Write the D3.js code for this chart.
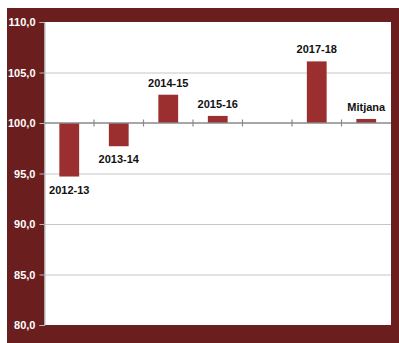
<!DOCTYPE html>
<html>
<head>
<meta charset="utf-8">
<script src="https://cdn.jsdelivr.net/npm/d3@7"></script>
<style>
  html, body { margin: 0; padding: 0; background: #fff; }
  svg { display: block; font-family: "Liberation Sans", Arial, sans-serif; }
</style>
</head>
<body>
<svg id="chart" width="399" height="343"></svg>
<script>
// chart data
const categories = ["2012-13", "2013-14", "2014-15", "2015-16", "2016-17", "2017-18", "Mitjana"];
const values = [94.7, 97.7, 102.8, 100.7, null, 106.1, 100.4];
const labels = ["2012-13", "2013-14", "2014-15", "2015-16", "", "2017-18", "Mitjana"];
const yTicks = [80, 85, 90, 95, 100, 105, 110];
const baseValue = 100;

const svg = d3.select("#chart");
const width = 399, height = 343;
const plot = { left: 44.5, top: 22, right: 391, bottom: 325 };

const xScale = d3.scaleBand()
    .domain(categories)
    .range([plot.left, plot.right])
    .paddingInner(0.6)
    .paddingOuter(0.3);

const yScale = d3.scaleLinear()
    .domain([80, 110])
    .range([plot.bottom, plot.top]);

const fmt = d => d.toFixed(1).replace(".", ",");

// maroon frame
svg.append("rect")
    .attr("x", 7).attr("y", 8)
    .attr("width", width - 7).attr("height", height - 8)
    .attr("fill", "#6b1e1e");

// white plot area
svg.append("rect")
    .attr("x", plot.left).attr("y", plot.top)
    .attr("width", plot.right - plot.left).attr("height", plot.bottom - plot.top)
    .attr("fill", "#fff");

// grid lines (dotted)
svg.append("g")
    .selectAll("line")
    .data(yTicks.filter(t => t !== baseValue && t !== 110 && t !== 80))
    .join("line")
    .attr("x1", plot.left).attr("x2", plot.right)
    .attr("y1", d => yScale(d) + 0.5).attr("y2", d => yScale(d) + 0.5)
    .attr("stroke", "#8c8c8c")
    .attr("stroke-width", 1)
    .attr("stroke-dasharray", "1,1");

// y axis
const yAxis = svg.append("g")
    .attr("transform", `translate(${plot.left},0)`)
    .call(d3.axisLeft(yScale).tickValues(yTicks).tickFormat(fmt).tickSize(5).tickPadding(4));
yAxis.select(".domain").attr("stroke", "#b8b8b8");
yAxis.selectAll(".tick line").attr("stroke", "#b8b8b8");
yAxis.selectAll(".tick text")
    .attr("fill", "#fff")
    .attr("font-size", 11)
    .attr("font-weight", "bold")
    .attr("font-family", "Liberation Sans, Arial, sans-serif");

// bars
const barData = categories.map((c, i) => ({ cat: c, value: values[i], label: labels[i] }))
    .filter(d => d.value !== null);

svg.append("g")
    .selectAll("rect")
    .data(barData)
    .join("rect")
    .attr("x", d => xScale(d.cat))
    .attr("width", xScale.bandwidth())
    .attr("y", d => yScale(Math.max(d.value, baseValue)))
    .attr("height", d => Math.abs(yScale(d.value) - yScale(baseValue)))
    .attr("fill", "#9b2f2f");

// base line at 100 with category ticks
svg.append("line")
    .attr("x1", plot.left).attr("x2", plot.right)
    .attr("y1", yScale(baseValue)).attr("y2", yScale(baseValue))
    .attr("stroke", "#8a8a8a")
    .attr("stroke-width", 1.5);

const boundaries = categories.slice(1).map(c => xScale(c) - xScale.step() * 0.3);
svg.append("g")
    .selectAll("line")
    .data(boundaries)
    .join("line")
    .attr("x1", d => d).attr("x2", d => d)
    .attr("y1", yScale(baseValue) - 3.5).attr("y2", yScale(baseValue) + 3.5)
    .attr("stroke", "#8a8a8a")
    .attr("stroke-width", 1.2);

// bar labels
svg.append("g")
    .selectAll("text")
    .data(barData)
    .join("text")
    .attr("x", d => xScale(d.cat) + xScale.bandwidth() / 2)
    .attr("y", d => d.value >= baseValue ? yScale(d.value) - 8 : yScale(d.value) + 17)
    .attr("text-anchor", "middle")
    .attr("font-size", 11)
    .attr("font-weight", "bold")
    .attr("fill", "#111")
    .text(d => d.label);
</script>
</body>
</html>
